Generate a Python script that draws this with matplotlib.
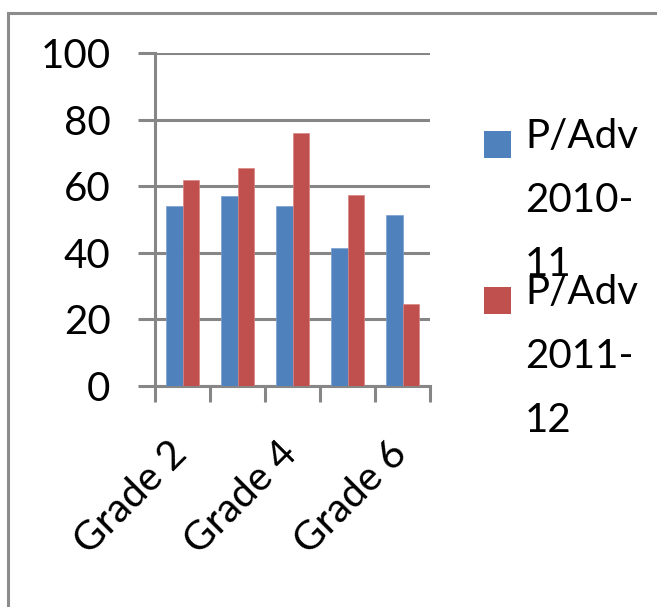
# Gráfico de barras agrupadas: P/Adv por série (2010-11 vs 2011-12)
import numpy as np
import matplotlib.pyplot as plt
from matplotlib.patches import Rectangle
from matplotlib.transforms import ScaledTranslation

# Dados
categorias = ['Grade 2', 'Grade 3', 'Grade 4', 'Grade 5', 'Grade 6']
series = ['P/Adv\n2010-\n11', 'P/Adv\n2011-\n12']
valores_2010 = [54, 57, 54, 41.5, 51.5]
valores_2011 = [62, 65.5, 76, 57.5, 24.5]
ticks_y = [0, 20, 40, 60, 80, 100]
cores = ['#4F81BD', '#C0504D']
cinza = '#868686'

plt.rcParams['font.family'] = ['Lato', 'DejaVu Sans']
W, H = 657, 607
fig = plt.figure(figsize=(W / 100, H / 100), dpi=100)

# moldura do gráfico (cortada à direita e embaixo)
fig.patches.append(Rectangle((8 / W, -0.1), 1.2, (H - 13) / H + 0.1,
                             transform=fig.transFigure, fill=False,
                             edgecolor='#8c8c8c', linewidth=2.2))

ax = fig.add_axes([155 / W, 1 - 386 / H, (430 - 155) / W, (386 - 53) / H])

x = np.arange(len(categorias))
larg = 0.3
ax.bar(x - larg / 2, valores_2010, larg, color=cores[0], edgecolor='#7a9fcf', linewidth=0.5, zorder=3)
ax.bar(x + larg / 2, valores_2011, larg, color=cores[1], edgecolor='#d98583', linewidth=0.5, zorder=3)

ax.set_xlim(-0.5, len(categorias) - 0.5)
ax.set_ylim(0, 100)
ax.set_yticks(ticks_y)
ax.yaxis.grid(True, color=cinza, linewidth=2.2, zorder=0)
ax.set_axisbelow(True)

for lado in ['top', 'right']:
    ax.spines[lado].set_visible(False)
for lado in ['left', 'bottom']:
    ax.spines[lado].set_color(cinza)
    ax.spines[lado].set_linewidth(2.2)

ax.tick_params(axis='y', direction='out', length=12, width=2.2, color=cinza,
               pad=20, labelsize=29)
# marcas do eixo x nos limites das categorias, rótulos só em categorias alternadas
ax.set_xticks(np.arange(len(categorias) + 1) - 0.5)
ax.set_xticklabels([])
ax.tick_params(axis='x', which='major', direction='out', length=11.5, width=2.2, color=cinza)
ax.set_xticks(x[::2], minor=True)
ax.set_xticklabels(categorias[::2], minor=True, rotation=45, ha='right',
                   rotation_mode='anchor', fontsize=29)
ax.tick_params(axis='x', which='minor', length=0, pad=38)
desloc = ScaledTranslation(-0.15, 0.04, fig.dpi_scale_trans)
for rot in ax.get_xticklabels(minor=True):
    rot.set_transform(rot.get_transform() + desloc)

# legenda manual
for i, (nome, cor) in enumerate(zip(series, cores)):
    topo = 131 + i * 156
    fig.patches.append(Rectangle((484 / W, 1 - (topo + 27) / H), 27 / W, 27 / H,
                                 transform=fig.transFigure, facecolor=cor, edgecolor='none'))
    # va='baseline' alinha pela última linha do texto
    fig.text(525 / W, 1 - (topo + 145) / H, nome, fontsize=29, va='baseline',
             ha='left', linespacing=1.9)

plt.savefig('out.png', dpi=100)
